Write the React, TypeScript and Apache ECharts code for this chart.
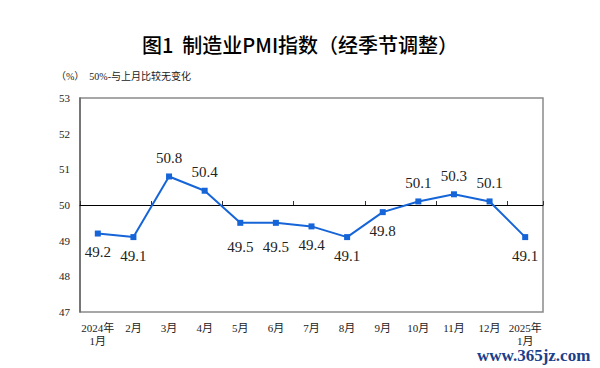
import React, { useEffect, useRef } from "react";
import * as echarts from "echarts";

const categories = ["2024年\n1月", "2月", "3月", "4月", "5月", "6月", "7月", "8月", "9月", "10月", "11月", "12月", "2025年\n1月"];
const pmiValues = [49.2, 49.1, 50.8, 50.4, 49.5, 49.5, 49.4, 49.1, 49.8, 50.1, 50.3, 50.1, 49.1];
const labelAbove = [false, false, true, true, false, false, false, false, false, true, true, true, false];
const yTicks = [47, 48, 49, 50, 51, 52, 53];

const titleText = "图1  制造业PMI指数（经季节调整）";
const subtitleText = "（%）  50%-与上月比较无变化";
const watermarkText = "www.365jz.com";

const FONT = "'Liberation Serif', 'Noto Sans CJK SC', serif";
const LINE_COLOR = "#1565d8";

export default function App() {
  const ref = useRef<HTMLDivElement>(null);
  useEffect(() => {
    if (!ref.current) return;
    const chart = echarts.init(ref.current, undefined, { renderer: "svg" });
    const gridLeft = 80;
    const gridRight = 57;
    const gridTop = 98;
    const gridBottom = 56;
    chart.setOption({
      animation: false,
      backgroundColor: "#ffffff",
      title: {
        text: titleText,
        left: "center",
        top: 29,
        textStyle: {
          fontFamily: "'Noto Sans CJK SC', sans-serif",
          fontSize: 20,
          fontWeight: 500,
          color: "#000",
        },
      },
      graphic: [
        {
          type: "text",
          left: 56,
          top: 71,
          style: { text: subtitleText, fontSize: 10, fontFamily: FONT, fill: "#222" },
        },
        {
          type: "text",
          left: 477,
          top: 347,
          style: {
            text: watermarkText,
            fontSize: 17,
            fontWeight: "bold",
            fontFamily: "'Liberation Serif', serif",
            fill: "#1b3f8b",
          },
        },
      ],
      grid: [
        {
          left: gridLeft,
          right: gridRight,
          top: gridTop,
          bottom: gridBottom,
          show: true,
          borderColor: "#8a8a8a",
          borderWidth: 1.5,
        },
        {
          left: gridLeft,
          right: gridRight,
          top: gridTop,
          bottom: 368 - (gridTop + (368 - gridTop - gridBottom) / 2),
        },
      ],
      xAxis: [
        {
          type: "category",
          gridIndex: 0,
          data: categories,
          boundaryGap: true,
          axisLine: { show: false },
          axisTick: { show: false },
          axisLabel: {
            fontFamily: FONT,
            fontSize: 11,
            color: "#222",
            margin: 9,
            lineHeight: 13,
            interval: 0,
          },
        },
        {
          type: "category",
          gridIndex: 1,
          data: categories,
          boundaryGap: true,
          axisLine: { show: true, lineStyle: { color: "#000", width: 1 } },
          axisTick: { show: true, inside: true, length: 4, lineStyle: { color: "#333" } },
          axisLabel: { show: false },
        },
      ],
      yAxis: [
        {
          type: "value",
          gridIndex: 0,
          min: 47,
          max: 53,
          interval: 1,
          axisLine: { show: true, lineStyle: { color: "#666", width: 1.5 } },
          axisTick: { show: false },
          splitLine: { show: false },
          axisLabel: {
            fontFamily: FONT,
            fontSize: 11,
            color: "#222",
            margin: 10,
            formatter: (v: number) => (yTicks.includes(v) ? String(v) : ""),
          },
        },
        {
          type: "value",
          gridIndex: 1,
          show: false,
          min: 0,
          max: 1,
        },
      ],
      series: [
        {
          type: "line",
          xAxisIndex: 0,
          yAxisIndex: 0,
          data: pmiValues.map((v, i) => ({
            value: v,
            label: {
              position: labelAbove[i] ? "top" : "bottom",
              distance: i === 4 || i === 5 ? 14 : 8,
            },
          })),
          symbol: "rect",
          symbolSize: 6,
          lineStyle: { color: LINE_COLOR, width: 2 },
          itemStyle: { color: LINE_COLOR },
          label: {
            show: true,
            fontFamily: FONT,
            fontSize: 15,
            color: "#222",
            formatter: (p: any) => Number(p.value).toFixed(1),
          },
          z: 5,
        },
      ],
    });
    return () => chart.dispose();
  }, []);
  return <div ref={ref} style={{ width: 600, height: 368, position: "absolute", left: 0, top: 0 }} />;
}
